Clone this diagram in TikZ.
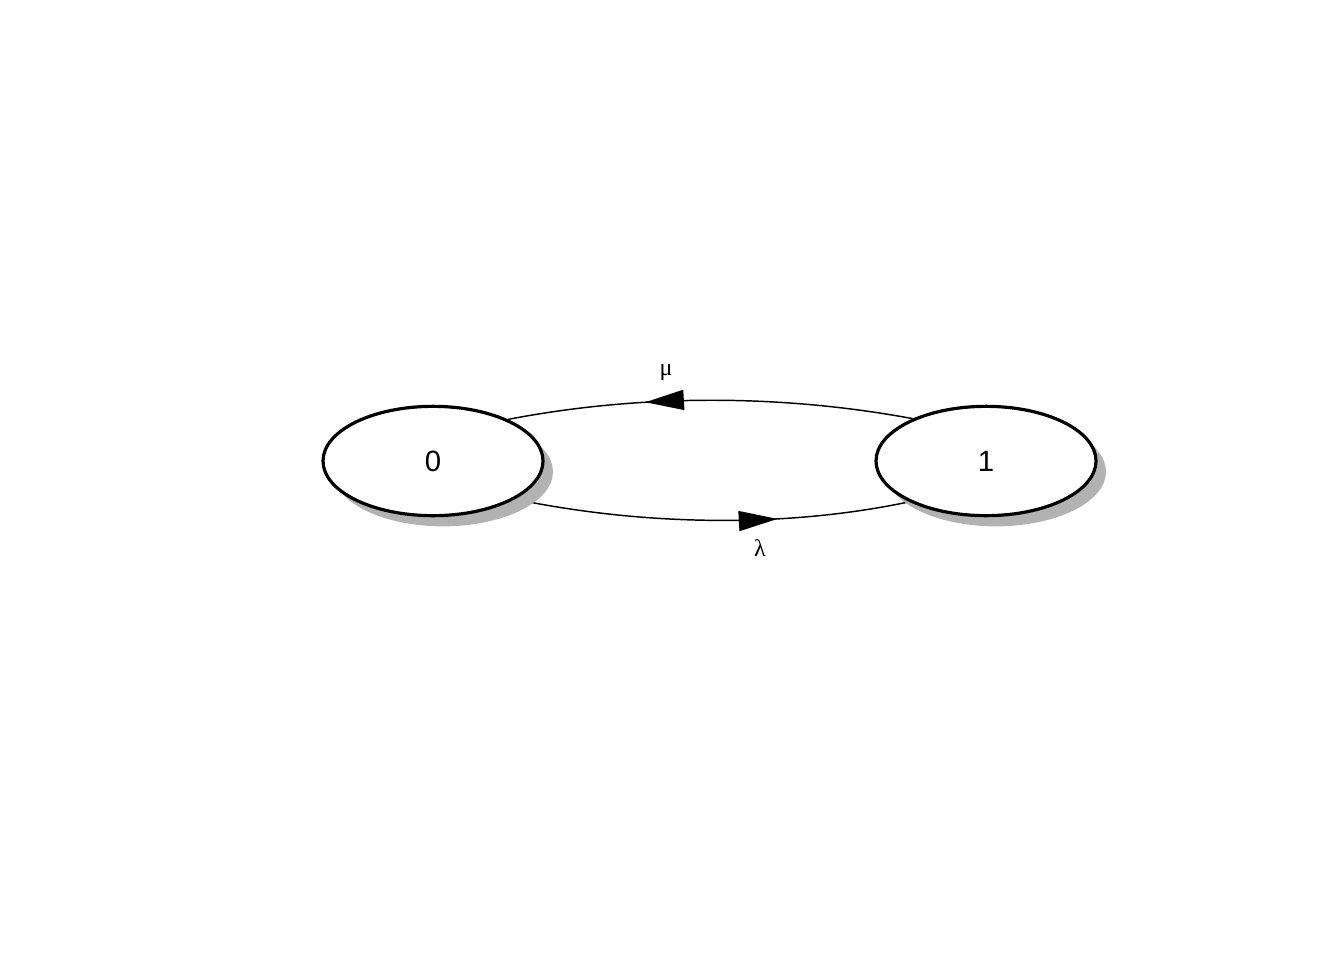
\documentclass[tikz,border=0pt]{standalone}
\usepackage{fontspec}
\setmainfont{Liberation Sans}
\newfontfamily\greekfont{Liberation Serif}
\usetikzlibrary{shapes.geometric,shadows,arrows.meta,decorations.markings,backgrounds}
\tikzset{
  state/.style={ellipse, draw=black, line width=2.4pt, fill=white, inner sep=0pt,
    minimum width=165pt, minimum height=82pt, font=\fontsize{22}{26}\selectfont,
    drop shadow={shadow xshift=7.5pt, shadow yshift=-8pt, fill=black!30, opacity=1}},
  edgeline/.style={line width=1.1pt, draw=black},
  midarrow/.style={postaction={decorate}, decoration={markings,
    mark=at position #1 with {\arrow{Triangle[length=29pt,width=15pt]}}}},
  rate/.style={font=\greekfont\fontsize{18}{20}\selectfont, inner sep=0pt}
}
\begin{document}
\begin{tikzpicture}[x=0.75pt,y=-0.75pt]
\useasboundingbox (0,0) rectangle (1344,960);
\node[state] (n0) at (433,461) {0};
\node[state] (n1) at (986,461) {1};
\begin{scope}[on background layer]
\draw[edgeline, midarrow=0.66] (n1.150) .. controls (780,394) and (640,394) .. (n0.29);
\draw[edgeline, midarrow=0.665] (n0.-25) .. controls (650,527) and (790,527) .. (n1.-152);
\end{scope}
\node[rate] (mu) at (666,373) {μ};
\node[rate] (lambda) at (760,548) {λ};
\end{tikzpicture}
\end{document}
